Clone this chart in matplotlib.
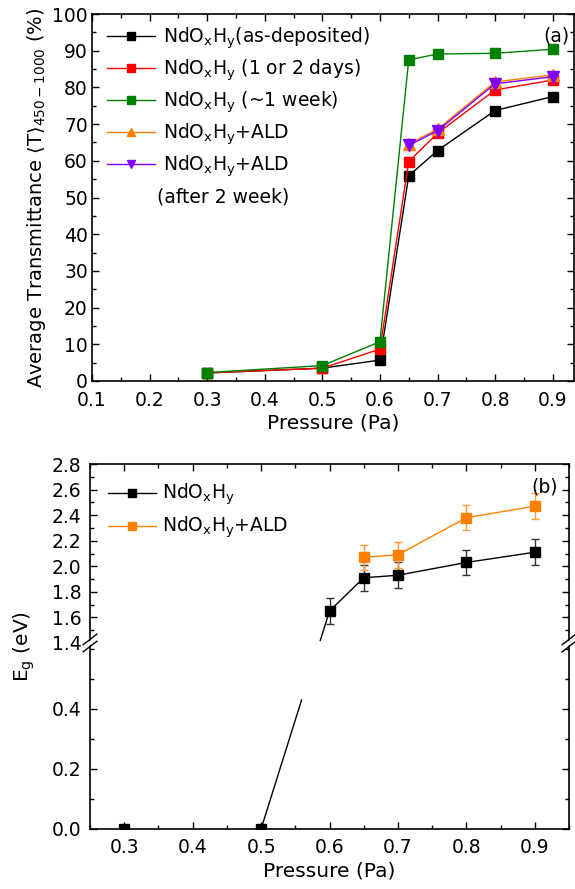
import matplotlib
matplotlib.use("Agg")
import matplotlib.pyplot as plt
from matplotlib.ticker import MultipleLocator
from matplotlib.lines import Line2D

plt.rcParams['font.family'] = ['DejaVu Sans']
plt.rcParams['mathtext.fontset'] = 'dejavusans'

# ---------------- data (a) ----------------
pressure = [0.3, 0.5, 0.6, 0.65, 0.7, 0.8, 0.9]
t_asdep = [2.2, 3.5, 5.7, 55.9, 62.8, 73.7, 77.5]
t_12days = [2.2, 3.5, 8.7, 59.8, 67.5, 79.3, 82.0]
t_1week = [2.3, 4.2, 10.7, 87.5, 89.1, 89.3, 90.4]
pressure_ald = [0.65, 0.7, 0.8, 0.9]
t_ald = [64.6, 68.6, 81.5, 83.4]
t_ald_2w = [64.2, 68.2, 81.0, 82.9]

# ---------------- data (b) ----------------
eg_pressure = [0.3, 0.5, 0.6, 0.65, 0.7, 0.8, 0.9]
eg_ndoh = [0.0, 0.0, 1.65, 1.91, 1.93, 2.03, 2.11]
eg_ndoh_err = [0.0, 0.0, 0.10, 0.10, 0.10, 0.10, 0.10]
eg_ald_pressure = [0.65, 0.7, 0.8, 0.9]
eg_ald = [2.07, 2.09, 2.38, 2.47]
eg_ald_err = [0.10, 0.10, 0.10, 0.10]

lab = r'NdO$_\mathrm{x}$H$_\mathrm{y}$'
labels_a = [lab + '(as-deposited)', lab + ' (1 or 2 days)', lab + ' (~1 week)',
            lab + '+ALD', lab + '+ALD']
labels_b = [lab, lab + '+ALD']

C_BLACK = '#000000'
C_RED = '#FF0000'
C_GREEN = '#008000'
C_ORANGE = '#FF8000'
C_PURPLE = '#8000FF'

W, H = 575, 889
fig = plt.figure(figsize=(W / 100, H / 100), dpi=100)

def rect(l, r, t, b):
    return [l / W, 1 - b / H, (r - l) / W, (b - t) / H]

FS = 13.5   # tick labels / legend
LS = 14.5   # axis labels

def style(ax, ypad, xpad):
    ax.tick_params(which='both', direction='in', top=True, right=True, labelsize=FS, width=1)
    ax.tick_params(which='major', length=5)
    ax.tick_params(which='minor', length=3)
    ax.tick_params(axis='x', pad=xpad)
    ax.tick_params(axis='y', pad=ypad)
    for s in ax.spines.values():
        s.set_linewidth(1.2)

# ---------------- panel (a) ----------------
axa = fig.add_axes(rect(92, 574, 14, 381))
ms = 7.5
axa.plot(pressure, t_asdep, '-s', color=C_BLACK, lw=1, ms=ms, label=labels_a[0])
axa.plot(pressure, t_12days, '-s', color=C_RED, lw=1, ms=ms, label=labels_a[1])
axa.plot(pressure, t_1week, '-s', color=C_GREEN, lw=1, ms=ms, label=labels_a[2])
axa.plot(pressure_ald, t_ald, '-^', color=C_ORANGE, lw=1, ms=ms + 1, label=labels_a[3])
axa.plot(pressure_ald, t_ald_2w, '-v', color=C_PURPLE, lw=1, ms=ms + 1, label=labels_a[4])
axa.set_xlim(0.1, 0.937)
axa.set_ylim(0, 100)
axa.xaxis.set_minor_locator(MultipleLocator(0.05))
axa.yaxis.set_major_locator(MultipleLocator(10))
axa.yaxis.set_minor_locator(MultipleLocator(5))
axa.set_xticks([0.1, 0.2, 0.3, 0.4, 0.5, 0.6, 0.7, 0.8, 0.9])
axa.set_xticklabels(['0.1', '0.2', '0.3', '0.4', '0.5', '0.6', '0.7', '0.8', '0.9'])
style(axa, 3, 7.5)
axa.set_xlabel('Pressure (Pa)', fontsize=LS, labelpad=2)
axa.set_ylabel(r'Average Transmittance $\langle\mathrm{T}\rangle_{\mathrm{450-1000}}$ (%)',
               fontsize=14, labelpad=3)
axa.legend(loc='upper left', bbox_to_anchor=(0.031, 0.969), frameon=False,
           fontsize=FS, handlelength=2.55, handletextpad=0.45, labelspacing=0.35,
           borderaxespad=0, borderpad=0, markerscale=0.75)
axa.text(0.135, 0.501, '(after 2 week)', transform=axa.transAxes, fontsize=FS,
         ha='left', va='center')
axa.text(0.99, 0.94, '(a)', transform=axa.transAxes, fontsize=FS, ha='right', va='center')

# ---------------- panel (b) ----------------
ax_up = fig.add_axes(rect(90, 569, 464, 643))
ax_lo = fig.add_axes(rect(90, 569, 643, 829))
for ax in (ax_up, ax_lo):
    ax.set_xlim(0.25, 0.95)
    ax.xaxis.set_major_locator(MultipleLocator(0.1))
    ax.xaxis.set_minor_locator(MultipleLocator(0.05))
    style(ax, 6, 6.5)
ax_up.set_ylim(1.4, 2.8)
ax_up.yaxis.set_minor_locator(MultipleLocator(0.1))
ax_up.set_yticks([1.4, 1.6, 1.8, 2.0, 2.2, 2.4, 2.6, 2.8])
ax_up.set_yticklabels(['1.4', '1.6', '1.8', '2.0', '2.2', '2.4', '2.6', '2.8'])
ax_lo.set_ylim(0, 0.62)
ax_lo.set_yticks([0.0, 0.2, 0.4])
ax_lo.set_yticklabels(['0.0', '0.2', '0.4'])
ax_lo.yaxis.set_minor_locator(MultipleLocator(0.1))
ax_up.spines['bottom'].set_visible(False)
ax_lo.spines['top'].set_visible(False)
ax_up.tick_params(which='both', bottom=False, labelbottom=False)
ax_lo.tick_params(which='both', top=False)
ax_lo.set_xticks([0.3, 0.4, 0.5, 0.6, 0.7, 0.8, 0.9])
ax_lo.set_xticklabels(['0.3', '0.4', '0.5', '0.6', '0.7', '0.8', '0.9'])
ax_lo.set_xlabel('Pressure (Pa)', fontsize=LS, labelpad=3)

msb = 7
up_idx = [i for i, v in enumerate(eg_ndoh) if v >= 1.4]
lo_idx = [i for i, v in enumerate(eg_ndoh) if v < 1.4]
ax_up.errorbar([eg_pressure[i] for i in up_idx], [eg_ndoh[i] for i in up_idx],
               yerr=[eg_ndoh_err[i] for i in up_idx], fmt='-s', color=C_BLACK, ecolor='#333333',
               lw=1, elinewidth=1, capsize=3, ms=msb)
ax_up.errorbar(eg_ald_pressure, eg_ald, yerr=eg_ald_err, fmt='-s', color=C_ORANGE,
               ecolor='#FF9933', lw=1, elinewidth=1, capsize=3, ms=msb)
ax_lo.plot([eg_pressure[i] for i in lo_idx], [eg_ndoh[i] for i in lo_idx], 's',
           color=C_BLACK, ms=msb)

# connecting segment crossing the axis break, drawn with a gap around the break
i0, i1 = lo_idx[-1], up_idx[0]
p0 = ax_lo.transData.transform((eg_pressure[i0], eg_ndoh[i0]))
p1 = ax_up.transData.transform((eg_pressure[i1], eg_ndoh[i1]))
y_lo_end = ax_lo.transData.transform((0, 0.43))[1]
y_up_start = ax_up.transData.transform((0, 1.42))[1]
def at_y(yd):
    t = (yd - p0[1]) / (p1[1] - p0[1])
    return (p0[0] + t * (p1[0] - p0[0]), yd)
q_lo = ax_lo.transData.inverted().transform(at_y(y_lo_end))
q_up = ax_up.transData.inverted().transform(at_y(y_up_start))
ax_lo.plot([eg_pressure[i0], q_lo[0]], [eg_ndoh[i0], q_lo[1]], '-', color=C_BLACK, lw=1)
ax_up.plot([q_up[0], eg_pressure[i1]], [q_up[1], eg_ndoh[i1]], '-', color=C_BLACK, lw=1)

h_b = [Line2D([], [], color=C_BLACK, marker='s', lw=1, ms=msb),
       Line2D([], [], color=C_ORANGE, marker='s', lw=1, ms=msb)]
ax_up.legend(h_b, labels_b, loc='upper left', bbox_to_anchor=(0.038, 0.9), frameon=False,
             fontsize=FS, handlelength=2.55, handletextpad=0.3, labelspacing=0.4,
             borderaxespad=0, borderpad=0, markerscale=0.8)
ax_up.text(0.977, 0.87, '(b)', transform=ax_up.transAxes, fontsize=FS, ha='right', va='center')

# break marks on both spines
yb = 1 - 643 / H
for xp in (90, 569):
    xc = xp / W
    fig.add_artist(Line2D([xc - 0.012, xc + 0.012], [yb - 0.006, yb + 0.006],
                          color='white', lw=2.5))
    for dy in (-0.004, 0.004):
        fig.add_artist(Line2D([xc - 0.012, xc + 0.012], [yb + dy - 0.006, yb + dy + 0.006],
                              color='black', lw=1.0))

fig.text(24 / W, 1 - 647 / H, r'E$_\mathrm{g}$ (eV)', rotation=90, fontsize=LS,
         ha='center', va='center')

fig.savefig('out.png', dpi=100)
